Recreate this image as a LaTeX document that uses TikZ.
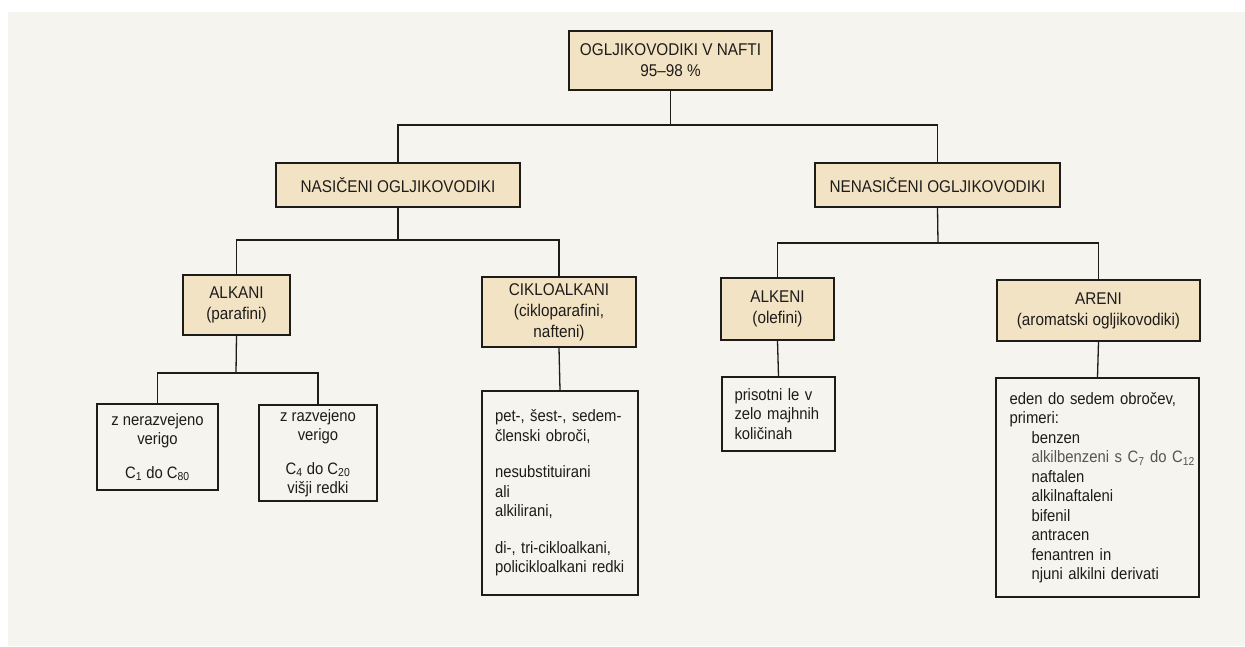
\documentclass[tikz,border=0pt]{standalone}
\usepackage{fontspec}
\setmainfont{Liberation Sans}[FakeStretch=0.9]
\definecolor{paper}{RGB}{246,244,238}
\definecolor{tan}{RGB}{242,227,196}
\definecolor{ink}{RGB}{30,28,26}
\begin{document}
\begin{tikzpicture}[x=1pt,y=-1pt,
  box/.style={draw=ink, line width=1.7pt, rectangle, inner sep=0pt, text=ink,
    font=\fontsize{16.5}{19.5}\selectfont, align=center},
  hbox/.style={box, fill=tan, font=\fontsize{17}{21}\selectfont},
  dbox/.style={box, align=left},
  link/.style={draw=ink, line width=1.3pt}]
\useasboundingbox (0,0) rectangle (1245,646);
\fill[white] (0,0) rectangle (1245,646);
\fill[paper] (8,12) rectangle (1245,646);

% level 0
\node[hbox, minimum width=203pt, minimum height=59pt] (top) at (670.5,60.5)
  {OGLJIKOVODIKI V NAFTI\\95–98 \%};
% level 1
\node[hbox, minimum width=244pt, minimum height=44pt] (nas) at (398,185) {NASIČENI OGLJIKOVODIKI};
\node[hbox, minimum width=245pt, minimum height=44pt] (nen) at (937.5,185) {NENASIČENI OGLJIKOVODIKI};
% level 2
\node[hbox, minimum width=107pt, minimum height=60pt] (alkani) at (236.5,305) {ALKANI\\(parafini)};
\node[hbox, minimum width=154pt, minimum height=70pt] (ciklo) at (559,312) {CIKLOALKANI\\(cikloparafini,\\nafteni)};
\node[hbox, minimum width=113pt, minimum height=62pt] (alkeni) at (777.5,309) {ALKENI\\(olefini)};
\node[hbox, minimum width=203pt, minimum height=61pt] (areni) at (1098.5,310.5) {ARENI\\(aromatski ogljikovodiki)};
% level 3
\node[box, minimum width=121pt, minimum height=86pt] (b1) at (157.5,447)
  {z nerazvejeno\\verigo\\[14pt]C\textsubscript{1} do C\textsubscript{80}};
\node[box, minimum width=118pt, minimum height=96pt] (b2) at (318,453)
  {z razvejeno\\verigo\\[14pt]C\textsubscript{4} do C\textsubscript{20}\\višji redki};
\node[dbox, text width=130pt, minimum width=156pt, minimum height=204pt] (b3) at (560,493)
  {\mbox{pet-, šest-, sedem-}\\\mbox{členski obroči,}\\[17pt]nesubstituirani\\ali\\alkilirani,\\[17pt]\mbox{di-, tri-cikloalkani,}\\\mbox{policikloalkani redki}};
\node[dbox, text width=88pt, minimum width=113pt, minimum height=74pt] (b4) at (778.5,414)
  {\mbox{prisotni le v}\\\mbox{zelo majhnih}\\\mbox{količinah}};
\node[dbox, text width=176pt, minimum width=203pt, minimum height=219pt] (b5) at (1097.5,487.5)
  {\mbox{eden do sedem obročev,}\\primeri:\\
   \hspace*{22pt}benzen\\
   \hspace*{22pt}\mbox{\color{ink!75}alkilbenzeni s C\textsubscript{7} do C\textsubscript{12}}\\
   \hspace*{22pt}naftalen\\
   \hspace*{22pt}alkilnaftaleni\\
   \hspace*{22pt}bifenil\\
   \hspace*{22pt}antracen\\
   \hspace*{22pt}\mbox{fenantren in}\\
   \hspace*{22pt}\mbox{njuni alkilni derivati}};

% junctions
\coordinate (j0) at (669,125);
\coordinate (j1) at (398,240);
\coordinate (j2) at (938,243);
\coordinate (j3) at (236,373);

% connectors
\draw[link] (top.south) -- (top.south |- j0);
\draw[link] (nas.north) |- (j0) -| (nen.north);
\draw[link] (nas.south) -- (j1);
\draw[link] (alkani.north) |- (j1) -| (ciklo.north);
\draw[link] (nen.south) -- (j2);
\draw[link] (alkeni.north) |- (j2) -| (areni.north);
\draw[link] (alkani.south) -- (j3);
\draw[link] (b1.north) |- (j3) -| (b2.north);
\draw[link] (ciklo.south) -- (b3.north);
\draw[link] (alkeni.south) -- (b4.north);
\draw[link] (areni.south) -- (b5.north);
\end{tikzpicture}
\end{document}
